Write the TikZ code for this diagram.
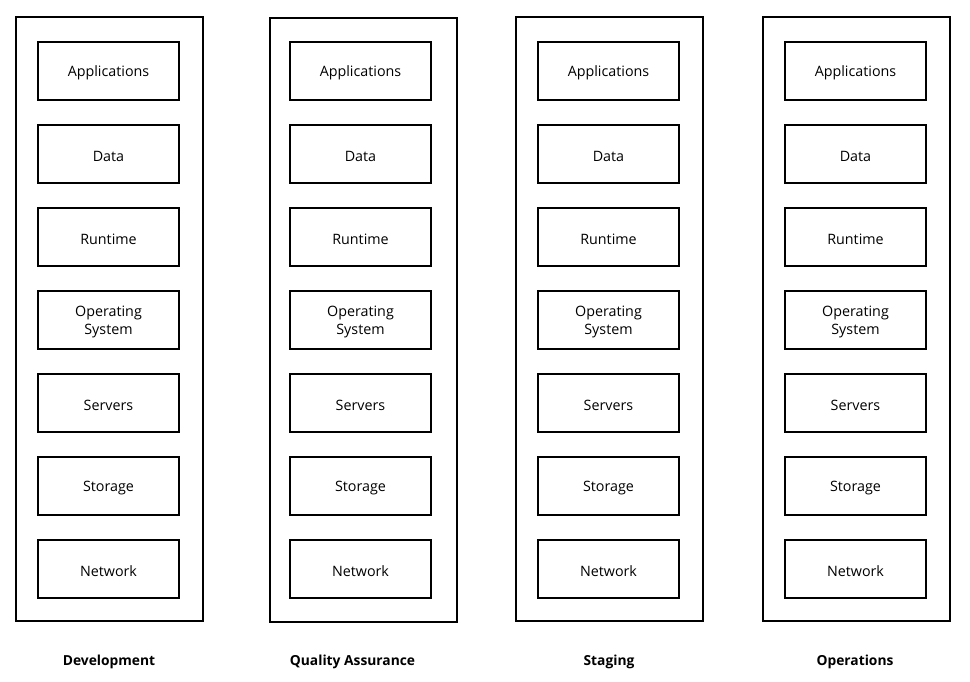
\documentclass[tikz,border=0pt]{standalone}
\usepackage{fontspec}
\setmainfont{Open Sans}
\begin{document}
\begin{tikzpicture}[x=1pt,y=-1pt,
  outerbox/.style={draw=black,line width=2.6pt,minimum width=187pt,minimum height=604pt,inner sep=0pt},
  layerbox/.style={draw=black,line width=2.3pt,minimum width=141pt,minimum height=58pt,inner sep=0pt},
  layertext/.style={align=center,font=\fontsize{14.3}{18}\selectfont,inner sep=0pt,yshift=-2pt},
  envlabel/.style={font=\fontsize{13.8}{16}\selectfont\bfseries,anchor=base}]
\useasboundingbox (0,0) rectangle (970,682);
\fill[white] (0,0) rectangle (970,682);
\foreach \c/\ox/\ix/\dy/\lx/\lab in {1/109.5/108.5/0/109/Development, 2/363.5/360.5/1/352.5/Quality Assurance, 3/609.5/608.5/0/609/Staging, 4/856.5/855.5/0/855/Operations}{
  \node[outerbox] (env\c) at (\ox,319+\dy) {};
  \foreach \r/\t in {1/Applications,2/Data,3/Runtime,4/{Operating\\System},5/Servers,6/Storage,7/Network}{
    \node[layerbox,label={[layertext]center:\t}] (l\c\r) at (\ix,71+83*\r-83) {};
  }
  \node[envlabel] (lab\c) at (\lx,665) {\lab};
}
\end{tikzpicture}
\end{document}
